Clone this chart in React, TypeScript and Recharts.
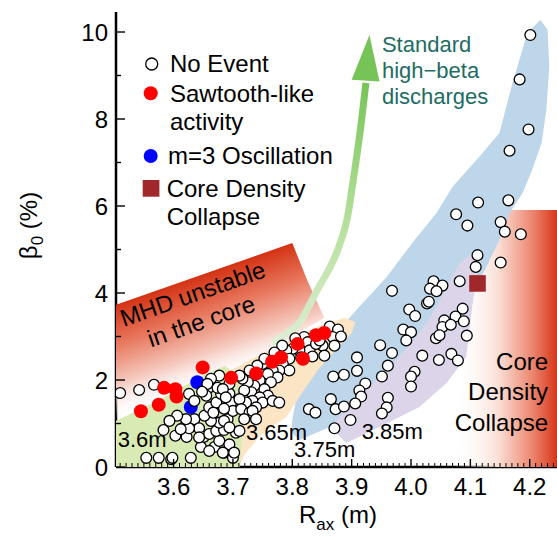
import React from "react";
import { ScatterChart, Scatter, XAxis, YAxis, ReferenceDot, Legend, Label } from "recharts";

const FONT = '"Liberation Sans", Arial, Helvetica, sans-serif';

// axes
const xDomain: [number, number] = [3.503, 4.251];
const yDomain: [number, number] = [0, 10.46];
const xTickLabels = ["3.6", "3.7", "3.8", "3.9", "4.0", "4.1", "4.2"];
const yTickLabels = ["0", "2", "4", "6", "8", "10"];

// measurements, R_ax (m) vs beta_0 (%)
const noEvent: [number, number][] = [
  // 3.6m group
  [3.510, 1.70], [3.542, 1.77], [3.567, 1.89], [3.583, 0.85], [3.603, 0.72], [3.554, 0.21], [3.575, 0.21],
  [3.596, 0.18], [3.622, 0.69], [3.618, 0.92], [3.635, 1.10], [3.643, 0.89], [3.626, 0.89], [3.651, 0.69],
  [3.646, 0.46], [3.669, 0.46], [3.677, 0.60], [3.685, 0.33], [3.660, 0.76], [3.672, 0.83], [3.685, 0.85],
  [3.691, 1.10], [3.677, 1.02], [3.663, 1.06], [3.652, 1.18], [3.660, 1.37], [3.672, 1.48], [3.680, 1.68],
  [3.694, 1.69], [3.697, 1.48], [3.700, 1.29], [3.677, 2.10], [3.663, 2.03], [3.660, 1.83], [3.655, 1.64],
  [3.657, 1.91], [3.626, 1.68], [3.621, 1.10], [3.612, 0.87], [3.598, 0.21], [3.629, 0.21],
  [3.694, 0.52], [3.700, 0.21], [3.705, 0.79], [3.702, 0.33], [3.683, 0.33], [3.660, 0.37], [3.643, 0.68],
  [3.635, 1.52], [3.648, 1.73], [3.606, 1.18], [3.593, 1.06], [3.667, 1.25], [3.685, 1.34],
  [3.674, 1.82],
  // 3.65m group
  [3.863, 3.23], [3.877, 3.16], [3.868, 2.99], [3.871, 2.79], [3.851, 2.79], [3.820, 2.99], [3.826, 2.87],
  [3.829, 2.68], [3.812, 2.68], [3.801, 2.72], [3.815, 2.52], [3.834, 2.54], [3.854, 2.56], [3.840, 2.83],
  [3.790, 2.68], [3.795, 2.49], [3.784, 2.37], [3.795, 2.22], [3.778, 2.22], [3.767, 2.22], [3.775, 2.06],
  [3.759, 2.14], [3.764, 1.95], [3.750, 2.37], [3.745, 1.99], [3.753, 1.79], [3.759, 1.64], [3.736, 1.87],
  [3.725, 1.95], [3.716, 2.03], [3.731, 1.72], [3.719, 1.76], [3.745, 1.60], [3.733, 1.52], [3.750, 1.48],
  [3.767, 1.52], [3.778, 1.48], [3.739, 1.37], [3.722, 1.48], [3.711, 1.56], [3.694, 1.91], [3.683, 1.79],
  [3.688, 1.60], [3.714, 1.33], [3.728, 1.25], [3.719, 1.10], [3.685, 1.06], [3.694, 0.91], [3.711, 0.83],
  [3.733, 1.29], [3.739, 1.10], [3.882, 3.00], [3.846, 2.91], [3.805, 2.96], [3.783, 2.79], [3.770, 2.63],
  [3.753, 2.49], [3.741, 2.33], [3.728, 2.22], [3.711, 2.10],
  // 3.75m / 3.85m groups
  [4.201, 9.93], [4.183, 8.91], [4.198, 7.76], [4.166, 7.27], [4.113, 6.08], [4.164, 6.13], [4.076, 5.81],
  [4.095, 5.55], [4.151, 5.63], [4.158, 5.41], [4.185, 5.35], [4.112, 4.87], [4.109, 4.60], [4.151, 4.70],
  [4.082, 4.27], [4.038, 4.27], [4.032, 4.10], [4.053, 4.17], [4.043, 4.04], [3.968, 4.05], [4.027, 3.76],
  [4.030, 3.80], [3.997, 3.62], [4.007, 3.47], [4.087, 3.64], [4.075, 3.46], [4.056, 3.37], [4.053, 3.22],
  [4.067, 3.27], [4.089, 3.35], [3.987, 3.16], [4.000, 3.10], [3.992, 2.91], [4.042, 2.96], [4.048, 3.03],
  [4.094, 3.02], [3.948, 2.80], [3.968, 2.62], [4.019, 2.56], [4.047, 2.46], [4.068, 2.60], [4.079, 2.45],
  [3.909, 2.52], [3.961, 2.33], [3.909, 2.21], [3.951, 2.08], [4.006, 2.19], [4.000, 2.08], [4.000, 1.85],
  [3.869, 2.08], [3.887, 2.12], [3.923, 1.92], [3.913, 1.76], [3.916, 1.62], [3.906, 1.46], [3.961, 1.59],
  [3.959, 1.37], [3.951, 1.23], [3.865, 1.56], [3.873, 1.33], [3.887, 1.39], [3.828, 1.33], [3.839, 1.25],
  [3.898, 1.08], [3.871, 0.89],
];
const sawtooth: [number, number][] = [
  [3.545, 1.28], [3.575, 1.43], [3.584, 1.82], [3.603, 1.79], [3.605, 1.62], [3.649, 2.29],
  [3.697, 2.05], [3.739, 2.15], [3.766, 2.42], [3.781, 2.52], [3.809, 2.83], [3.818, 2.49],
  [3.840, 3.03], [3.854, 3.08],
];
const m3Oscillation: [number, number][] = [[3.640, 1.95], [3.629, 1.38], [3.666, 1.37]];
const densityCollapse: [number, number][] = [[4.112, 4.22]];

// shaded zones (outline vertices in data units)
const zone36: [number, number][] = [
  [3.495, 1.01], [3.576, 1.54], [3.644, 2.07], [3.686, 2.32], [3.708, 2.11], [3.718, 1.08], [3.711, -0.1], [3.495, -0.1],
];
const zone365: [number, number][] = [
  [3.652, 1.89], [3.728, 2.46], [3.783, 2.85], [3.846, 3.24], [3.888, 3.43], [3.906, 3.33], [3.900, 3.08],
  [3.846, 2.28], [3.817, 1.72], [3.790, 1.15], [3.750, 0.78], [3.719, 0.28], [3.708, -0.1], [3.677, -0.1], [3.669, 1.08],
];
const zone375: [number, number][] = [
  [4.218, 10.28], [4.230, 10.05], [4.233, 9.20], [4.228, 8.21], [4.220, 7.45], [4.204, 6.83], [4.188, 6.30],
  [4.166, 5.84], [4.149, 5.22], [4.127, 4.60], [4.093, 3.68], [4.031, 2.62], [3.947, 1.68], [3.863, 0.92],
  [3.812, 0.62], [3.798, 0.80], [3.800, 1.08], [3.807, 1.61], [3.829, 2.23], [3.863, 2.92], [3.908, 3.61],
  [3.959, 4.37], [4.002, 5.15], [4.043, 5.84], [4.070, 6.44], [4.115, 7.13], [4.149, 7.68], [4.171, 8.83],
  [4.196, 9.98],
];
const zone385: [number, number][] = [
  [3.863, 0.92], [3.891, 0.55], [3.947, 0.92], [4.014, 1.38], [4.060, 1.93], [4.093, 2.53], [4.098, 3.08],
  [4.103, 3.68], [4.110, 4.30], [4.120, 4.83], [4.110, 4.99], [4.082, 4.69], [4.060, 4.14], [4.043, 3.68],
  [4.014, 3.08], [3.975, 2.46], [3.930, 1.84], [3.891, 1.31],
];
const zoneMhd: [number, number][] = [
  [3.495, 3.69], [3.800, 5.15], [3.825, 4.30], [3.854, 3.43], [3.812, 3.10], [3.783, 2.85], [3.728, 2.46],
  [3.669, 2.09], [3.576, 1.54], [3.495, 1.01],
];
const zoneCollapse: [number, number][] = [
  [4.162, 5.91], [4.26, 5.91], [4.26, -0.1], [4.073, -0.1], [4.082, 2.00], [4.102, 3.84],
];
const arrowShaft: [number, number][] = [
  [3.766, 2.85], [3.789, 3.06], [3.813, 3.33], [3.842, 4.07], [3.864, 4.60], [3.879, 5.08], [3.892, 5.68],
  [3.901, 6.44], [3.914, 7.68], [3.924, 8.83],
];
const arrowHead: [number, number][] = [[3.930, 9.93], [3.900, 8.90], [3.947, 8.86]];

// text annotations
const zoneNames = [
  { x: 3.506, y: 0.47, text: "3.6m" },
  { x: 3.722, y: 0.63, text: "3.65m" },
  { x: 3.803, y: 0.24, text: "3.75m" },
  { x: 3.917, y: 0.64, text: "3.85m" },
];
const collapseText = ["Core", "Density", "Collapse"];
const highBetaText = ["Standard", "high\u2212beta", "discharges"];
const mhdText = ["MHD unstable", "in the core"];

const toPts = (a: [number, number][]) => a.map(([x, y]) => ({ x, y }));
const noShape = () => <g />;

const pathOf = (pts: { x: number; y: number }[], close = true) =>
  pts.map((p, i) => `${i ? "L" : "M"}${p.x},${p.y}`).join(" ") + (close ? " Z" : "");

const smoothPath = (pts: { x: number; y: number }[]) => {
  let d = `M${pts[0].x},${pts[0].y}`;
  for (let i = 0; i < pts.length - 1; i++) {
    const p0 = pts[i - 1] || pts[i];
    const p1 = pts[i];
    const p2 = pts[i + 1];
    const p3 = pts[i + 2] || p2;
    const c1x = p1.x + (p2.x - p0.x) / 6;
    const c1y = p1.y + (p2.y - p0.y) / 6;
    const c2x = p2.x - (p3.x - p1.x) / 6;
    const c2y = p2.y - (p3.y - p1.y) / 6;
    d += ` C${c1x},${c1y} ${c2x},${c2y} ${p2.x},${p2.y}`;
  }
  return d;
};

const fillPoly = (fill: string) => (props: any) => <path d={pathOf(props.points)} fill={fill} stroke="none" />;

const mhdPoly = (props: any) => {
  const pts = props.points;
  const a = pts[0];
  const b = pts[1];
  const len = Math.hypot(b.x - a.x, b.y - a.y);
  const nx = -(b.y - a.y) / len;
  const ny = (b.x - a.x) / len;
  const mx = (a.x + b.x) / 2;
  const my = (a.y + b.y) / 2;
  return (
    <g>
      <defs>
        <linearGradient id="mhdGrad" gradientUnits="userSpaceOnUse" x1={mx} y1={my} x2={mx + nx * 110} y2={my + ny * 110}>
          <stop offset="0" stopColor="rgb(212,50,20)" />
          <stop offset="0.35" stopColor="rgb(232,122,96)" />
          <stop offset="0.7" stopColor="rgb(246,206,196)" />
          <stop offset="1" stopColor="#ffffff" stopOpacity={0} />
        </linearGradient>
      </defs>
      <path d={pathOf(pts)} fill="url(#mhdGrad)" />
    </g>
  );
};

const collapsePoly = (props: any) => (
  <g>
    <defs>
      <linearGradient id="collapseGrad" x1="0" y1="0" x2="1" y2="0">
        <stop offset="0" stopColor="#ffffff" stopOpacity={0} />
        <stop offset="0.4" stopColor="rgb(250,222,212)" />
        <stop offset="0.7" stopColor="rgb(236,135,112)" />
        <stop offset="0.95" stopColor="rgb(212,45,15)" />
      </linearGradient>
    </defs>
    <path d={pathOf(props.points)} fill="url(#collapseGrad)" />
  </g>
);

const shaftLine = (props: any) => (
  <g>
    <defs>
      <linearGradient id="arrowGrad" x1="0" y1="1" x2="0" y2="0">
        <stop offset="0" stopColor="rgb(222,238,212)" />
        <stop offset="0.5" stopColor="rgb(178,222,150)" />
        <stop offset="1" stopColor="rgb(118,196,88)" />
      </linearGradient>
    </defs>
    <path d={smoothPath(props.points)} fill="none" stroke="url(#arrowGrad)" strokeWidth={7} />
  </g>
);

const isMajorX = (v: number) => xTickLabels.some((t) => Math.abs(Number(t) - v) < 1e-6);
const isMajorY = (v: number) => yTickLabels.some((t) => Math.abs(Number(t) - v) < 1e-6);

const xTicks: number[] = [];
for (let i = Math.ceil(xDomain[0] * 100); i <= Math.floor(xDomain[1] * 100); i++) xTicks.push(i / 100);
const yTicks: number[] = [];
for (let i = 0; i <= 10; i++) yTicks.push(i);

const BottomTick = ({ x, y, payload }: any) => {
  const major = isMajorX(payload.value);
  const label = xTickLabels.find((t) => Math.abs(Number(t) - payload.value) < 1e-6);
  return (
    <g>
      <line x1={x} x2={x} y1={y} y2={y - (major ? 8 : 4)} stroke="#000" strokeWidth={major ? 1.4 : 1} />
      {major && (
        <text x={x} y={y + 28} textAnchor="middle" fontSize={24} fontFamily={FONT} fill="#000">
          {label}
        </text>
      )}
    </g>
  );
};
const TopTick = ({ x, y, payload }: any) => {
  const major = isMajorX(payload.value);
  return <line x1={x} x2={x} y1={y} y2={y + (major ? 8 : 4)} stroke="#000" strokeWidth={major ? 1.4 : 1} />;
};
const LeftTick = ({ x, y, payload }: any) => {
  const major = isMajorY(payload.value);
  return (
    <g>
      <line x1={x} x2={x + (major ? 9 : 5)} y1={y} y2={y} stroke="#000" strokeWidth={1.4} />
      {major && (
        <text x={x - 8} y={y + 8.5} textAnchor="end" fontSize={24} fontFamily={FONT} fill="#000">
          {payload.value}
        </text>
      )}
    </g>
  );
};
const RightTick = ({ x, y, payload }: any) => {
  const major = isMajorY(payload.value);
  return <line x1={x} x2={x - (major ? 8 : 5)} y1={y} y2={y} stroke="#000" strokeWidth={1.4} />;
};

const XTitle = (props: any) => {
  const vb = props.viewBox;
  return (
    <text x={vb.x + vb.width / 2} y={vb.y + 56} textAnchor="middle" fontSize={24} fontFamily={FONT} fill="#000">
      R<tspan fontSize={17} dy={7}>ax</tspan>
      <tspan dy={-7}> (m)</tspan>
    </text>
  );
};
const YTitle = (props: any) => {
  const vb = props.viewBox;
  const cx = vb.x + 37;
  const cy = vb.y + vb.height / 2 - 14;
  return (
    <text x={cx} y={cy} transform={`rotate(-90 ${cx} ${cy})`} textAnchor="middle" fontSize={24} fontFamily={FONT} fill="#000">
      β<tspan fontSize={17} dy={6}>0</tspan>
      <tspan dy={-6}> (%)</tspan>
    </text>
  );
};

const renderLegend = () => (
  <svg width={240} height={200} style={{ fontFamily: FONT, overflow: "visible" }}>
    <circle cx={16.7} cy={19} r={6} fill="#fff" stroke="#000" strokeWidth={1.3} />
    <text x={35} y={26.7} fontSize={24}>No Event</text>
    <circle cx={15.7} cy={48.3} r={7} fill="#ff0000" />
    <text x={35} y={56.7} fontSize={24}>Sawtooth-like</text>
    <text x={35} y={85} fontSize={24}>activity</text>
    <circle cx={15.7} cy={111} r={7} fill="#0000ff" />
    <text x={33} y={119} fontSize={24}>m=3 Oscillation</text>
    <rect x={7.7} y={135} width={16.7} height={16.7} fill="#a0282a" />
    <text x={31.7} y={151.7} fontSize={24}>Core Density</text>
    <text x={31.7} y={180} fontSize={24}>Collapse</text>
  </svg>
);

const zone = (key: string, pts: [number, number][], line: any) => (
  <Scatter key={key} data={toPts(pts)} line={line} lineType="joint" shape={noShape} legendType="none" isAnimationActive={false} />
);

export default function App() {
  return (
    <div style={{ position: "absolute", left: 0, top: 0, width: 557, height: 536, overflow: "hidden", background: "#fff" }}>
      <ScatterChart width={562} height={536} margin={{ top: 12, right: 2, bottom: 0, left: 0 }} style={{ fontFamily: FONT }}>
        <XAxis
          xAxisId={0}
          type="number"
          dataKey="x"
          domain={xDomain}
          allowDataOverflow
          ticks={xTicks}
          interval={0}
          tickLine={false}
          tickSize={0}
          tickMargin={0}
          height={69}
          axisLine={{ stroke: "#000", strokeWidth: 2.5 }}
          tick={(p: any) => <BottomTick {...p} />}
        >
          <Label content={XTitle} />
        </XAxis>
        <XAxis
          xAxisId="top"
          orientation="top"
          type="number"
          domain={xDomain}
          allowDataOverflow
          ticks={xTicks}
          interval={0}
          tickLine={false}
          tickSize={0}
          tickMargin={0}
          height={0}
          axisLine={{ stroke: "#000", strokeWidth: 2.5 }}
          tick={(p: any) => <TopTick {...p} />}
        />
        <YAxis
          yAxisId={0}
          type="number"
          dataKey="y"
          domain={yDomain}
          allowDataOverflow
          ticks={yTicks}
          interval={0}
          tickLine={false}
          tickSize={0}
          tickMargin={0}
          width={116}
          axisLine={{ stroke: "#000", strokeWidth: 2.5 }}
          tick={(p: any) => <LeftTick {...p} />}
        >
          <Label content={YTitle} />
        </YAxis>
        <YAxis
          yAxisId="right"
          orientation="right"
          type="number"
          domain={yDomain}
          allowDataOverflow
          ticks={yTicks}
          interval={0}
          tickLine={false}
          tickSize={0}
          tickMargin={0}
          width={0}
          axisLine={{ stroke: "#000", strokeWidth: 2.5 }}
          tick={(p: any) => <RightTick {...p} />}
        />
        <Legend verticalAlign="middle" align="center" layout="horizontal" content={renderLegend}
          wrapperStyle={{ left: 135, top: 45, width: 240, height: 200 }} />

        {zone("collapse", zoneCollapse, collapsePoly)}
        {zone("z375", zone375, fillPoly("#bed6ea"))}
        {zone("z385", zone385, fillPoly("#dcd4e9"))}
        {zone("z365", zone365, fillPoly("#fce5c4"))}
        {zone("mhd", zoneMhd, mhdPoly)}
        {zone("z36", zone36, fillPoly("#d9ebb4"))}
        {zone("shaft", arrowShaft, shaftLine)}
        {zone("head", arrowHead, fillPoly("rgb(118,196,88)"))}

        {zoneNames.map((z) => (
          <ReferenceDot key={z.text} x={z.x} y={z.y} r={0}
            shape={(p: any) => (
              <text x={p.cx} y={p.cy} fontSize={22} fontFamily={FONT} fill="#000">{z.text}</text>
            )} />
        ))}
        <ReferenceDot x={4.231} y={2.23} r={0}
          shape={(p: any) => (
            <text x={p.cx} y={p.cy} fontSize={24} fontFamily={FONT} fill="#000" textAnchor="end">
              {collapseText.map((t, i) => (
                <tspan key={t} x={p.cx} dy={i ? 30.5 : 0}>{t}</tspan>
              ))}
            </text>
          )} />
        <ReferenceDot x={3.951} y={9.53} r={0}
          shape={(p: any) => (
            <text x={p.cx} y={p.cy} fontSize={22} fontFamily={FONT} fill="#1e6c62">
              {highBetaText.map((t, i) => (
                <tspan key={t} x={p.cx} dy={i ? 26 : 0}>{t}</tspan>
              ))}
            </text>
          )} />
        <ReferenceDot x={3.516} y={3.22} r={0}
          shape={(p: any) => (
            <text x={p.cx} y={p.cy} fontSize={24} fontFamily={FONT} fill="#000" transform={`rotate(-19.3 ${p.cx} ${p.cy})`}>
              {mhdText.map((t, i) => (
                <tspan key={t} x={p.cx + i * 19} dy={i ? 28.5 : 0}>{t}</tspan>
              ))}
            </text>
          )} />

        <Scatter name="m=3 Oscillation" data={toPts(m3Oscillation)} isAnimationActive={false}
          shape={(p: any) => <circle cx={p.cx} cy={p.cy} r={7} fill="#0000ff" />} />
        <Scatter name="No Event" data={toPts(noEvent)} isAnimationActive={false}
          shape={(p: any) => <circle cx={p.cx} cy={p.cy} r={5.4} fill="#fff" stroke="#000" strokeWidth={1.3} />} />
        <Scatter name="Sawtooth-like activity" data={toPts(sawtooth)} isAnimationActive={false}
          shape={(p: any) => <circle cx={p.cx} cy={p.cy} r={7} fill="#ff0000" />} />
        <Scatter name="Core Density Collapse" data={toPts(densityCollapse)} isAnimationActive={false}
          shape={(p: any) => <rect x={p.cx - 8.3} y={p.cy - 8.3} width={16.6} height={16.6} fill="#a0282a" />} />
      </ScatterChart>
    </div>
  );
}
